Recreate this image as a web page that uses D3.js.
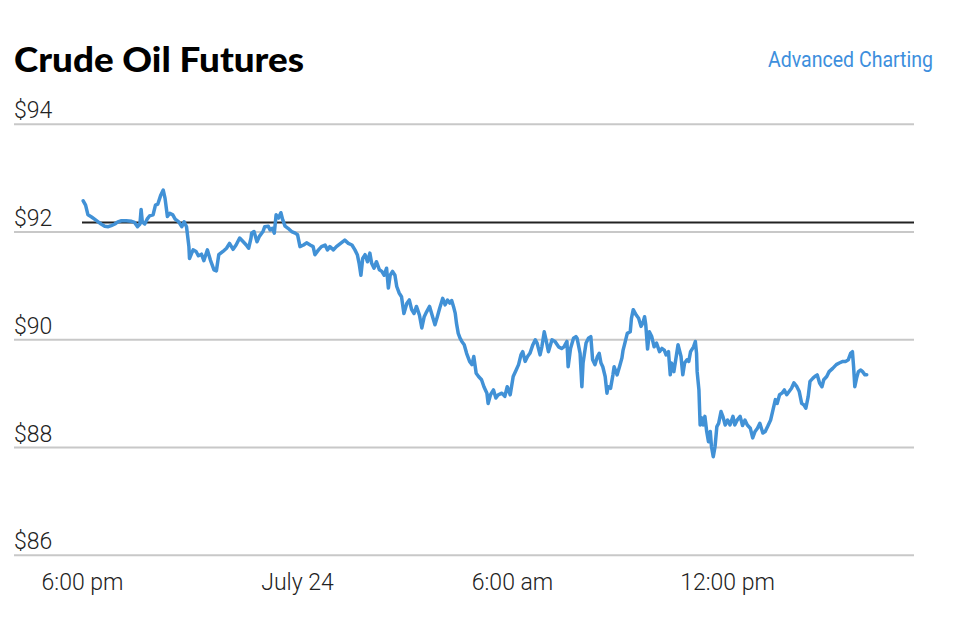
<!DOCTYPE html>
<html>
<head>
<meta charset="utf-8">
<script src="https://cdn.jsdelivr.net/npm/d3@7"></script>
<style>
  html, body { margin: 0; padding: 0; background: #fff; }
  svg { display: block; }
</style>
</head>
<body>
<div id="chart"></div>
<script>
var title = "Crude Oil Futures";
var linkLabel = "Advanced Charting";

var priceTicks = [94, 92, 90, 88, 86];
var prevClose = 92.17;

// tick positions in minutes after 6:00 pm (July 23) and their labels
var timeTicks = [0, 360, 720, 1080];
var timeTickLabels = ["6:00 pm", "July 24", "6:00 am", "12:00 pm"];

// minutes after 6:00 pm, July 23
var minutes = [
  2, 6, 10, 16, 21, 27, 32, 38, 44, 49,
  55, 60, 66, 74, 83, 88, 93, 97, 99, 101,
  105, 109, 113, 119, 123, 127, 132, 136, 139, 143,
  147, 152, 156, 162, 167, 171, 175, 179, 180, 186,
  191, 195, 200, 204, 210, 215, 221, 225, 229, 236,
  242, 247, 253, 258, 264, 270, 275, 279, 283, 284,
  288, 293, 297, 303, 306, 312, 315, 319, 322, 325,
  329, 333, 336, 340, 345, 351, 357, 361, 365, 371,
  376, 382, 387, 390, 396, 401, 407, 411, 415, 421,
  426, 433, 440, 446, 452, 457, 461, 464, 467, 470,
  474, 478, 482, 485, 489, 493, 498, 502, 506, 510,
  513, 516, 520, 524, 527, 531, 535, 539, 544, 548,
  552, 556, 560, 565, 569, 573, 577, 582, 587, 591,
  595, 599, 604, 608, 612, 616, 619, 622, 625, 627,
  630, 633, 636, 640, 644, 649, 653, 656, 660, 664,
  669, 673, 678, 680, 684, 689, 693, 697, 703, 708,
  712, 717, 722, 727, 731, 735, 738, 742, 746, 750,
  755, 759, 762, 767, 770, 774, 777, 781, 787, 792,
  798, 803, 807, 812, 814, 818, 823, 827, 829, 834,
  837, 839, 844, 848, 852, 855, 859, 863, 866, 869,
  872, 876, 879, 881, 885, 889, 891, 894, 896, 900,
  904, 906, 909, 913, 918, 920, 923, 928, 932, 936,
  939, 942, 944, 947, 950, 954, 958, 962, 967, 971,
  975, 978, 982, 985, 987, 991, 995, 998, 1003, 1006,
  1009, 1013, 1016, 1019, 1024, 1027, 1029, 1030, 1033, 1035,
  1038, 1040, 1043, 1046, 1049, 1052, 1054, 1057, 1060, 1063,
  1066, 1070, 1073, 1077, 1081, 1085, 1090, 1093, 1097, 1102,
  1106, 1110, 1114, 1119, 1123, 1127, 1131, 1135, 1140, 1144,
  1148, 1153, 1157, 1161, 1164, 1168, 1172, 1176, 1180, 1184,
  1188, 1192, 1197, 1201, 1205, 1209, 1212, 1216, 1219, 1224,
  1227, 1231, 1235, 1239, 1242, 1247, 1251, 1257, 1263, 1268,
  1274, 1279, 1283, 1287, 1290, 1292, 1294, 1297, 1300, 1304,
  1307, 1311, 1314
];

var prices = [
  92.57, 92.49, 92.31, 92.27, 92.23, 92.18, 92.14, 92.10, 92.09, 92.11,
  92.14, 92.18, 92.20, 92.20, 92.19, 92.17, 92.09, 92.14, 92.41, 92.18,
  92.14, 92.23, 92.29, 92.31, 92.49, 92.51, 92.68, 92.77, 92.62, 92.28,
  92.34, 92.31, 92.23, 92.18, 92.09, 92.18, 92.09, 91.72, 91.50, 91.66,
  91.63, 91.55, 91.58, 91.46, 91.66, 91.47, 91.29, 91.27, 91.57, 91.63,
  91.69, 91.78, 91.67, 91.75, 91.88, 91.81, 91.75, 91.69, 91.88, 91.97,
  92.00, 91.81, 91.91, 92.00, 92.09, 92.10, 92.03, 92.06, 91.97, 92.31,
  92.25, 92.35, 92.22, 92.10, 92.06, 92.00, 91.97, 91.94, 91.72, 91.75,
  91.79, 91.75, 91.72, 91.57, 91.66, 91.72, 91.75, 91.66, 91.72, 91.66,
  91.72, 91.78, 91.84, 91.78, 91.75, 91.66, 91.57, 91.41, 91.19, 91.50,
  91.57, 91.44, 91.60, 91.41, 91.32, 91.44, 91.29, 91.26, 91.19, 91.32,
  90.95, 91.19, 91.26, 91.19, 90.98, 90.86, 90.79, 90.48, 90.67, 90.73,
  90.55, 90.48, 90.61, 90.45, 90.21, 90.42, 90.51, 90.61, 90.42, 90.27,
  90.42, 90.58, 90.76, 90.64, 90.73, 90.67, 90.72, 90.61, 90.48, 90.30,
  90.11, 90.02, 89.96, 89.90, 89.74, 89.59, 89.53, 89.68, 89.37, 89.31,
  89.25, 89.12, 89.00, 88.81, 88.97, 89.06, 88.91, 88.97, 89.00, 88.94,
  89.12, 88.97, 89.31, 89.43, 89.53, 89.71, 89.77, 89.59, 89.68, 89.74,
  89.90, 89.99, 89.93, 89.71, 89.86, 90.14, 89.99, 89.77, 89.99, 89.96,
  89.86, 89.83, 89.86, 89.96, 89.49, 89.83, 90.02, 90.05, 90.02, 89.74,
  89.12, 89.56, 89.93, 90.02, 90.05, 89.62, 89.53, 89.68, 89.74, 89.56,
  89.49, 89.31, 89.00, 89.12, 89.09, 89.34, 89.49, 89.40, 89.34, 89.49,
  89.65, 89.80, 89.93, 90.11, 90.14, 90.39, 90.55, 90.45, 90.39, 90.24,
  90.30, 90.42, 90.27, 89.82, 90.14, 90.05, 89.86, 89.93, 89.77, 89.83,
  89.80, 89.71, 89.77, 89.34, 89.56, 89.40, 89.68, 89.90, 89.68, 89.34,
  89.56, 89.62, 89.59, 89.77, 89.86, 89.96, 89.74, 89.40, 89.06, 88.41,
  88.54, 88.41, 88.57, 88.29, 88.10, 88.29, 88.01, 87.82, 88.01, 88.38,
  88.44, 88.66, 88.57, 88.41, 88.50, 88.41, 88.57, 88.41, 88.50, 88.57,
  88.40, 88.50, 88.41, 88.35, 88.17, 88.29, 88.35, 88.44, 88.26, 88.29,
  88.38, 88.50, 88.69, 88.88, 88.81, 88.97, 89.00, 89.06, 88.97, 89.03,
  89.09, 89.19, 89.12, 89.03, 88.81, 88.78, 88.72, 88.94, 89.22, 89.28,
  89.31, 89.34, 89.19, 89.12, 89.25, 89.31, 89.40, 89.46, 89.53, 89.56,
  89.59, 89.59, 89.62, 89.74, 89.77, 89.49, 89.12, 89.28, 89.40, 89.43,
  89.40, 89.34, 89.34
];

var start = new Date(2022, 6, 23, 18, 0);
var toDate = function(m) { return d3.timeMinute.offset(start, m); };

var data = minutes.map(function(m, i) {
  return { date: toDate(m), price: prices[i] };
});

var width = 980, height = 620;
var gridLeft = 14, gridRight = 914;
var labelFont = "Roboto, 'Liberation Sans', sans-serif";

var svg = d3.select("#chart").append("svg")
  .attr("width", width)
  .attr("height", height);

// --
var x = d3.scaleTime()
  .domain([toDate(0), toDate(1080)])
  .range([82, 727]);

var y = d3.scaleLinear()
  .domain([86, 94])
  .range([554.8, 123.8]);

// title + link
svg.append("text")
  .attr("x", 14)
  .attr("y", 72)
  .attr("textLength", 290)
  .attr("lengthAdjust", "spacingAndGlyphs")
  .style("font-family", "Lato, 'Open Sans', sans-serif")
  .style("font-weight", 900)
  .style("font-size", "34px")
  .style("fill", "#000")
  .text(title);

svg.append("text")
  .attr("x", 933)
  .attr("y", 66.5)
  .attr("text-anchor", "end")
  .attr("textLength", 165)
  .attr("lengthAdjust", "spacingAndGlyphs")
  .style("font-family", labelFont)
  .style("font-weight", 400)
  .style("font-size", "22px")
  .style("fill", "#3d8fdd")
  .text(linkLabel);

// y axis: gridlines with labels above them
var yAxis = d3.axisRight(y)
  .tickValues(priceTicks)
  .tickSize(gridRight - gridLeft)
  .tickFormat(function(d) { return "$" + d; });

var yg = svg.append("g")
  .attr("transform", "translate(" + gridLeft + ",0)")
  .call(yAxis);

yg.select(".domain").remove();
yg.selectAll(".tick line")
  .attr("stroke", "#c8c8c8")
  .attr("stroke-width", 2);
yg.selectAll(".tick text")
  .attr("x", 0)
  .attr("dy", -6)
  .attr("text-anchor", "start")
  .style("font-family", labelFont)
  .style("font-weight", 300)
  .style("font-size", "23px")
  .style("fill", "#222");

// x axis
var xAxis = d3.axisBottom(x)
  .tickValues(timeTicks.map(toDate))
  .tickSize(0)
  .tickFormat(function(d, i) { return timeTickLabels[i]; });

var xg = svg.append("g")
  .attr("transform", "translate(0,573)")
  .call(xAxis);

xg.select(".domain").remove();
xg.selectAll(".tick text")
  .attr("y", 0)
  .attr("dy", "0.76em")
  .style("font-family", labelFont)
  .style("font-weight", 300)
  .style("font-size", "23px")
  .style("fill", "#222");

// previous close reference line
svg.append("line")
  .attr("x1", 82)
  .attr("x2", gridRight)
  .attr("y1", y(prevClose))
  .attr("y2", y(prevClose))
  .attr("stroke", "#222")
  .attr("stroke-width", 2);

// price line
var line = d3.line()
  .x(function(d) { return x(d.date); })
  .y(function(d) { return y(d.price); });

svg.append("path")
  .datum(data)
  .attr("d", line)
  .attr("fill", "none")
  .attr("stroke", "#4191d6")
  .attr("stroke-width", 3.5)
  .attr("stroke-linejoin", "round")
  .attr("stroke-linecap", "round");
</script>
</body>
</html>
